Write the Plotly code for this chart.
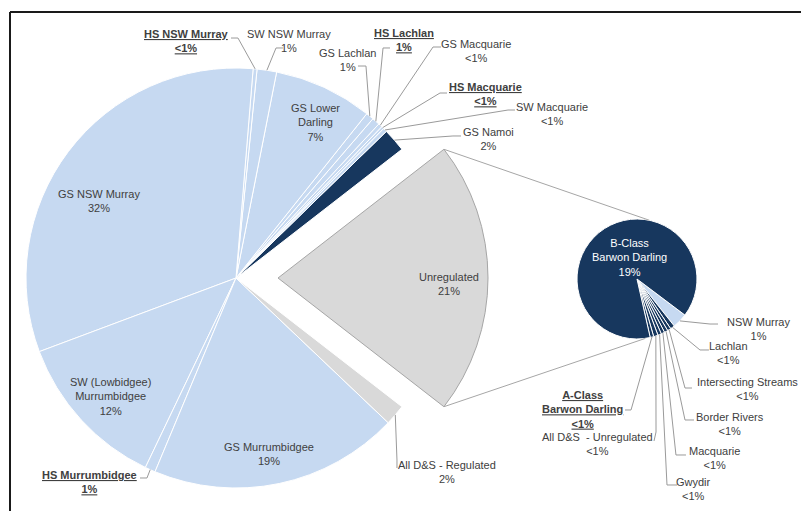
import math
import plotly.graph_objects as go

W, H = 801, 511

# ---------------- data ----------------
main_labels = ["Unregulated", "GS Namoi", "SW Macquarie", "HS Macquarie", "GS Macquarie",
               "HS Lachlan", "GS Lachlan", "GS Lower Darling", "SW NSW Murray", "HS NSW Murray",
               "GS NSW Murray", "SW (Lowbidgee) Murrumbidgee", "HS Murrumbidgee",
               "GS Murrumbidgee", "All D&S - Regulated"]
main_values = [21.0, 1.8, 0.3, 0.2, 0.3, 0.6, 0.6, 7.6, 1.5, 0.3, 32.0, 12.2, 0.8, 19.2, 1.6]
main_pct = ["21%", "2%", "<1%", "<1%", "<1%", "1%", "1%", "7%", "1%", "<1%",
            "32%", "12%", "1%", "19%", "2%"]

sub_labels = ["NSW Murray", "Lachlan", "Intersecting Streams", "Border Rivers", "Macquarie",
              "Gwydir", "All D&S  - Unregulated", "A-Class Barwon Darling", "B-Class Barwon Darling"]
sub_values = [0.85, 0.25, 0.2, 0.2, 0.2, 0.2, 0.25, 0.2, 18.65]
sub_pct = ["1%", "<1%", "<1%", "<1%", "<1%", "<1%", "<1%", "<1%", "19%"]

# ---------------- styles ----------------
LIGHT = "#C6D9F1"
NAVY = "#17375E"
GREY = "#D9D9D9"
TXT = "#404040"
LEAD = "#9A9A9A"
FONT = "Liberation Sans, Arial, sans-serif"

main_colors = [GREY, NAVY, LIGHT, LIGHT, LIGHT, LIGHT, LIGHT, LIGHT, LIGHT, LIGHT,
               LIGHT, LIGHT, LIGHT, LIGHT, GREY]
sub_colors = [LIGHT, NAVY, NAVY, NAVY, NAVY, NAVY, NAVY, NAVY, NAVY]
bold_labels = {"HS NSW Murray", "HS Lachlan", "HS Macquarie", "HS Murrumbidgee",
               "A-Class Barwon Darling"}

# geometry (pixels)
MAIN_C, MAIN_R = (236, 278), 210
EXPLODE = 42
SUB_C, SUB_R = (637, 279), 60


def domain(c, r):
    return dict(x=[(c[0] - r) / W, (c[0] + r) / W],
                y=[1 - (c[1] + r) / H, 1 - (c[1] - r) / H])


def px(x, y):
    return x / W, 1 - y / H


tot_main = sum(main_values)
rot_main = 90 - 360 * main_values[0] / tot_main / 2

fig = go.Figure()

# main pie without the exploded slice
fig.add_trace(go.Pie(
    labels=main_labels, values=main_values, sort=False, direction="counterclockwise",
    rotation=rot_main, textinfo="none", hoverinfo="label+percent",
    marker=dict(colors=["rgba(0,0,0,0)"] + main_colors[1:],
                line=dict(color="white", width=[0] + [1] * (len(main_values) - 1))),
    domain=domain(MAIN_C, MAIN_R), showlegend=False))

# exploded Unregulated slice
UNREG_C = (MAIN_C[0] + EXPLODE, MAIN_C[1])
fig.add_trace(go.Pie(
    labels=main_labels, values=main_values, sort=False, direction="counterclockwise",
    rotation=rot_main, textinfo="none", hoverinfo="label+percent",
    marker=dict(colors=[GREY] + ["rgba(0,0,0,0)"] * (len(main_values) - 1),
                line=dict(color="#A6A6A6", width=[1] + [0] * (len(main_values) - 1))),
    domain=domain(UNREG_C, MAIN_R), showlegend=False))

# secondary pie
tot_sub = sum(sub_values)
rot_sub = 127
fig.add_trace(go.Pie(
    labels=sub_labels, values=sub_values, sort=False, direction="clockwise",
    rotation=rot_sub, textinfo="none", hoverinfo="label+percent",
    marker=dict(colors=sub_colors, line=dict(color="white", width=1)),
    domain=domain(SUB_C, SUB_R), showlegend=False))


# ---------- helpers for slice geometry ----------
def main_mid_angle(i):
    # math angle (deg, ccw from east)
    start = 90 - rot_main  # math angle of the boundary after slice 0
    acc = sum(main_values[1:i]) * 360 / tot_main
    return start + acc + main_values[i] * 360 / tot_main / 2


def sub_mid_angle(i):
    acc = sum(sub_values[:i]) * 360 / tot_sub
    cw = rot_sub + acc + sub_values[i] * 360 / tot_sub / 2
    return 90 - cw


def arc_point(c, r, ang):
    a = math.radians(ang)
    return c[0] + r * math.cos(a), c[1] - r * math.sin(a)


# ---------- label layout: center (px), leader anchor, leader elbow ----------
main_layout = {
    "HS NSW Murray": ((186, 41), (231, 38), (238, 38)),
    "SW NSW Murray": ((289, 41), (283, 48), (276, 48)),
    "GS Lachlan": ((347, 60), (358, 66), (366, 66)),
    "HS Lachlan": ((404, 40), (390, 48), (383, 48)),
    "GS Macquarie": ((476, 51), (441, 47), (433, 47)),
    "HS Macquarie": ((485, 94), (447, 93), (440, 93)),
    "SW Macquarie": ((552, 114), (515, 110), (508, 110)),
    "GS Namoi": ((488, 139), (461, 136), (453, 136)),
    "GS Lower Darling": ((315, 122), None, None),
    "GS NSW Murray": ((99, 201), None, None),
    "SW (Lowbidgee) Murrumbidgee": ((110, 396), None, None),
    "GS Murrumbidgee": ((269, 454), None, None),
    "HS Murrumbidgee": ((89, 482), (140, 478), (147, 478)),
    "All D&S - Regulated": ((447, 472), (397, 468), (397, 460)),
    "Unregulated": ((449, 284), None, None),
}
main_text_lines = {
    "GS Lower Darling": ["GS Lower", "Darling"],
    "SW (Lowbidgee) Murrumbidgee": ["SW (Lowbidgee)", "Murrumbidgee"],
}
sub_layout = {
    "NSW Murray": ((758, 329), (718, 324), (710, 324)),
    "Lachlan": ((728, 353), (709, 350), (700, 350)),
    "Intersecting Streams": ((747, 389), (692, 388), (685, 388)),
    "Border Rivers": ((730, 424), (694, 420), (685, 420)),
    "Macquarie": ((714, 458), (686, 455), (676, 455)),
    "Gwydir": ((693, 489), (677, 485), (667, 485)),
    "All D&S  - Unregulated": ((597, 444), (654, 441), (656, 432)),
    "A-Class Barwon Darling": ((582, 409), (625, 410), (631, 410)),
    "B-Class Barwon Darling": ((629, 257), None, None),
}
sub_text_lines = {
    "A-Class Barwon Darling": ["A-Class", "Barwon Darling"],
    "B-Class Barwon Darling": ["B-Class", "Barwon Darling"],
}

annotations = []
shapes = []


def add_label(name, pct, pos, color=TXT):
    lines = main_text_lines.get(name) or sub_text_lines.get(name) or [name]
    lines = lines + [pct]
    lines = [l.replace("<", "&lt;") for l in lines]
    if name in bold_labels:
        lines = ["<b><u>%s</u></b>" % l for l in lines]
    x, y = px(*pos)
    annotations.append(dict(x=x, y=y, xref="paper", yref="paper", text="<br>".join(lines),
                            showarrow=False, xanchor="center", yanchor="middle", align="center",
                            font=dict(family=FONT, size=11, color=color)))


def add_leader(anchor, elbow, tip):
    pts = [anchor, elbow, tip]
    path = "M " + " L ".join("%.4f,%.4f" % px(*p) for p in pts)
    shapes.append(dict(type="path", xref="paper", yref="paper", path=path,
                       line=dict(color=LEAD, width=1)))


for i, name in enumerate(main_labels):
    pos, anc, elb = main_layout[name]
    add_label(name, main_pct[i], pos)
    if anc is not None:
        tip = arc_point(MAIN_C, MAIN_R, main_mid_angle(i))
        add_leader(anc, elb, tip)

for i, name in enumerate(sub_labels):
    pos, anc, elb = sub_layout[name]
    add_label(name, sub_pct[i], pos, color="white" if name.startswith("B-Class") else TXT)
    if anc is not None:
        tip = arc_point(SUB_C, SUB_R, sub_mid_angle(i))
        add_leader(anc, elb, tip)

# connector lines from the exploded slice to the secondary pie
half = main_values[0] * 360 / tot_main / 2
p_top = arc_point(UNREG_C, MAIN_R, half)
p_bot = arc_point(UNREG_C, MAIN_R, -half)
q_top = arc_point(SUB_C, SUB_R, 78)
q_bot = arc_point(SUB_C, SUB_R, -82)
for a, b in [(p_top, q_top), (p_bot, q_bot)]:
    x0, y0 = px(*a)
    x1, y1 = px(*b)
    shapes.append(dict(type="line", xref="paper", yref="paper", x0=x0, y0=y0, x1=x1, y1=y1,
                       line=dict(color="#A6A6A6", width=1)))

# frame (top and left border of the original picture)
shapes.append(dict(type="line", xref="paper", yref="paper", x0=10 / W, y0=1 - 12 / H,
                   x1=1, y1=1 - 12 / H, line=dict(color="#1a1a1a", width=2)))
shapes.append(dict(type="line", xref="paper", yref="paper", x0=10 / W, y0=1 - 12 / H,
                   x1=10 / W, y1=0, line=dict(color="#1a1a1a", width=2)))

fig.update_layout(width=W, height=H, margin=dict(l=0, r=0, t=0, b=0),
                  paper_bgcolor="white", plot_bgcolor="white",
                  annotations=annotations, shapes=shapes,
                  font=dict(family=FONT, size=11, color=TXT))

fig.write_html("out.html")
